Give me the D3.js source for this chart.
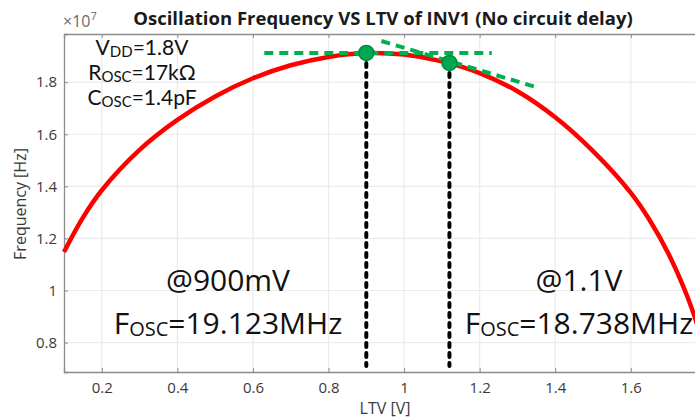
<!DOCTYPE html>
<html>
<head>
<meta charset="utf-8">
<script src="https://cdn.jsdelivr.net/npm/d3@7/dist/d3.min.js"></script>
<style>
  body { margin: 0; background: #fff; }
  text { font-family: "Open Sans", "Noto Sans", sans-serif; }
</style>
</head>
<body>
<div id="chart"></div>
<script>
// values (frequency in units of 1e7 Hz)
var ltv  = [0.10, 0.15, 0.20, 0.30, 0.40, 0.50, 0.60, 0.70, 0.80, 0.90, 1.00, 1.10, 1.20, 1.30, 1.40, 1.50, 1.60, 1.65, 1.70, 1.75, 1.78];
var freq = [1.148, 1.280, 1.385, 1.540, 1.655, 1.745, 1.815, 1.865, 1.897, 1.912, 1.906, 1.880, 1.835, 1.765, 1.665, 1.535, 1.375, 1.270, 1.140, 0.975, 0.850];
var xTicks = [0.2, 0.4, 0.6, 0.8, 1, 1.2, 1.4, 1.6];
var yTicks = [0.8, 1, 1.2, 1.4, 1.6, 1.8];
var markLtv  = [0.9, 1.12];
var markFreq = [1.9123, 1.8738];
var flatLine = [[0.63, 1.9123], [1.232, 1.9123]];
var slopeLine = [[0.94, 1.958], [1.35, 1.781]];

var W = 695, H = 418;
var svg = d3.select("#chart").append("svg").attr("width", W).attr("height", H)
svg.append("rect").attr("width", W).attr("height", H).attr("fill", "#fff")

var x = d3.scaleLinear().domain([0.1, 1.8]).range([64, 706.4]);
var y = d3.scaleLinear().domain([0.687, 1.985]).range([372, 34]);

// grid
var grid = svg.append("g")
grid.selectAll("line.gx").data(xTicks).enter().append("line")
  .attr("x1", d => x(d)).attr("x2", d => x(d)).attr("y1", y.range()[0]).attr("y2", y.range()[1])
  .attr("stroke", "#ebebeb").attr("stroke-width", 1.2)
grid.selectAll("line.gy").data(yTicks).enter().append("line")
  .attr("y1", d => y(d)).attr("y2", d => y(d)).attr("x1", x.range()[0]).attr("x2", x.range()[1])
  .attr("stroke", "#ebebeb").attr("stroke-width", 1.2)

// axes
var xAxis = svg.append("g").attr("transform", "translate(0," + y.range()[0] + ")")
  .call(d3.axisBottom(x).tickValues(xTicks).tickSize(-4).tickPadding(10).tickFormat(d3.format("")))
var xTop = svg.append("g").attr("transform", "translate(0," + y.range()[1] + ")")
  .call(d3.axisTop(x).tickValues(xTicks).tickSize(-4).tickFormat(""))
var yAxis = svg.append("g").attr("transform", "translate(" + x.range()[0] + ",0)")
  .call(d3.axisLeft(y).tickValues(yTicks).tickSize(-4).tickPadding(7).tickFormat(d3.format("")))
;[xAxis, xTop, yAxis].forEach(function(a) {
  a.select(".domain").attr("stroke", "#8c8c8c").attr("stroke-width", 1.3)
  a.selectAll(".tick line").attr("stroke", "#8c8c8c")
  a.selectAll(".tick text").attr("fill", "#3a3a3a").style("font-size", "15px").style("font-family", "Open Sans, sans-serif")
})

// axis labels
svg.append("text").attr("x", 385).attr("y", 414).attr("text-anchor", "middle")
  .attr("fill", "#3a3a3a").style("font-size", "16px").text("LTV [V]")
svg.append("text").attr("transform", "translate(26,204) rotate(-90)").attr("text-anchor", "middle")
  .attr("fill", "#3a3a3a").style("font-size", "16px").text("Frequency [Hz]")

// exponent
var ex = svg.append("text").attr("x", 63).attr("y", 27).attr("fill", "#6a6a6a").style("font-size", "16px")
ex.append("tspan").text("×10")
ex.append("tspan").attr("dy", -7).style("font-size", "11px").text("7")

// title
svg.append("text").attr("x", 383).attr("y", 25).attr("text-anchor", "middle")
  .attr("fill", "#1a1a1a").style("font-size", "18.5px").style("font-weight", "bold")
  .text("Oscillation Frequency VS LTV of INV1 (No circuit delay)")

// red curve
var pts = ltv.map((d, i) => [d, freq[i]])
svg.append("path").datum(pts)
  .attr("d", d3.line().x(d => x(d[0])).y(d => y(d[1])).curve(d3.curveCatmullRom.alpha(0.5)))
  .attr("fill", "none").attr("stroke", "#ff0000").attr("stroke-width", 4.5)

// black dotted verticals
svg.selectAll("line.vdrop").data(markLtv).enter().append("line")
  .attr("x1", d => x(d)).attr("x2", d => x(d))
  .attr("y1", (d, i) => y(markFreq[i]) + 10).attr("y2", y(0.71))
  .attr("stroke", "#000").attr("stroke-width", 4).attr("stroke-linecap", "round")
  .attr("stroke-dasharray", "4 6")

// green dashed tangents
;[flatLine, slopeLine].forEach(function(l) {
  svg.append("path").datum(l)
    .attr("d", d3.line().x(d => x(d[0])).y(d => y(d[1])))
    .attr("stroke", "#00b050").attr("stroke-width", 4).attr("stroke-dasharray", "9 6").attr("fill", "none")
})

// markers
svg.selectAll("circle.mk").data(markLtv).enter().append("circle")
  .attr("cx", d => x(d)).attr("cy", (d, i) => y(markFreq[i])).attr("r", 7.5)
  .attr("fill", "#00a84f").attr("stroke", "#008a3e").attr("stroke-width", 1.5)

// parameter text
var params = [["V", "DD", "=1.8V"], ["R", "OSC", "=17kΩ"], ["C", "OSC", "=1.4pF"]]
params.forEach(function(p, i) {
  var t = svg.append("text").attr("x", 142).attr("y", 55 + i * 25).attr("text-anchor", "middle")
    .attr("fill", "#111").style("font-size", "21px").style("font-family", "Lato, sans-serif")
  t.append("tspan").text(p[0])
  t.append("tspan").attr("dy", 2).style("font-size", "15px").text(p[1])
  t.append("tspan").attr("dy", -2).text(p[2])
})

// big annotations
var notes = [{cx: 228, at: "@900mV", f: "=19.123MHz"}, {cx: 579, at: "@1.1V", f: "=18.738MHz"}]
notes.forEach(function(n) {
  svg.append("text").attr("x", n.cx).attr("y", 291).attr("text-anchor", "middle")
    .attr("fill", "#111").style("font-size", "30px").text(n.at)
  var t = svg.append("text").attr("x", n.cx).attr("y", 334).attr("text-anchor", "middle")
    .attr("fill", "#111").style("font-size", "30px")
  t.append("tspan").text("F")
  t.append("tspan").attr("dy", 2).style("font-size", "20px").text("OSC")
  t.append("tspan").attr("dy", -2).text(n.f)
})
</script>
</body>
</html>
